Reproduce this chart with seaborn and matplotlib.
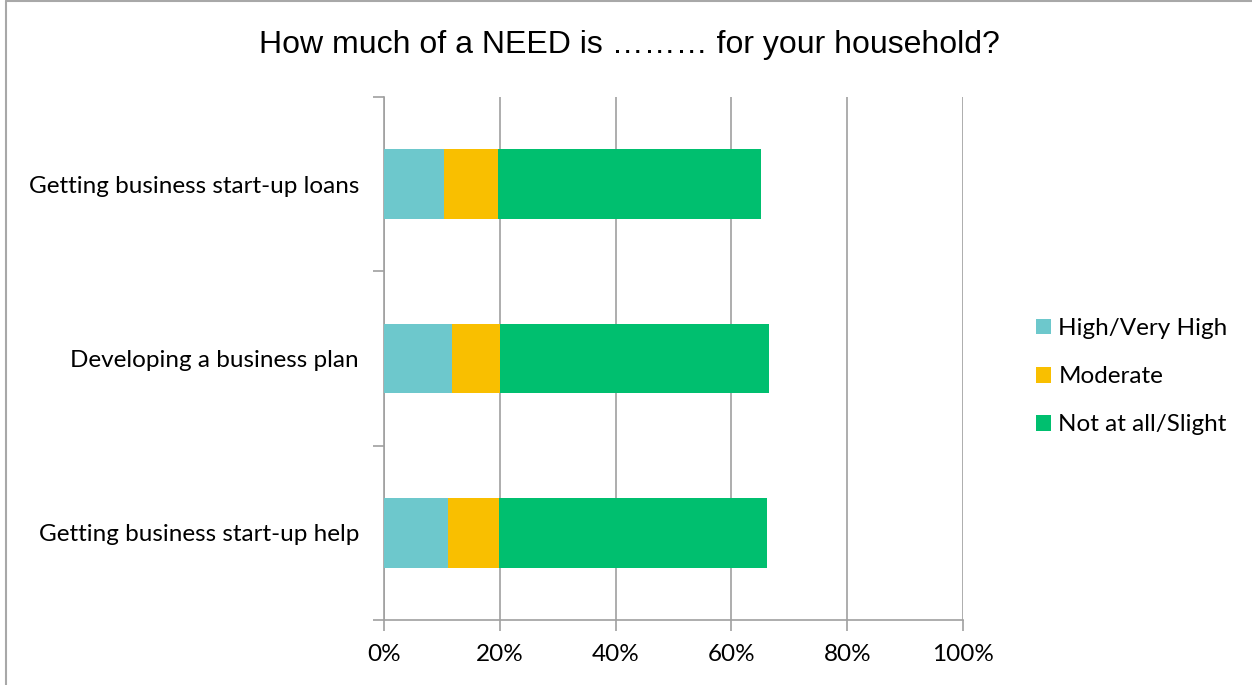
import matplotlib
matplotlib.use("Agg")
import matplotlib.pyplot as plt
import seaborn as sns
import pandas as pd
import numpy as np
from matplotlib.ticker import FixedLocator, PercentFormatter
from matplotlib.patches import Patch
from matplotlib.lines import Line2D

categories = ["Getting business start-up loans",
              "Developing a business plan",
              "Getting business start-up help"]
series_names = ["High/Very High", "Moderate", "Not at all/Slight"]
high = [10.4, 11.8, 11.1]
moderate = [9.3, 8.2, 8.7]
not_at_all = [45.4, 46.5, 46.3]
colors = ["#6DC8CC", "#F9BF00", "#00BF6F"]
x_ticks = [0, 20, 40, 60, 80, 100]

sns.set_theme(style="white")
plt.rcParams["font.family"] = ["Lato", "DejaVu Sans"]
plt.rcParams["text.color"] = "black"

fig = plt.figure(figsize=(12.52, 6.85), dpi=100)
ax = fig.add_axes([0.3067, 0.0949, 0.4625, 0.7635])

df = pd.DataFrame({"category": categories, "high": high,
                   "moderate": moderate, "not_at_all": not_at_all})
df["c1"] = df["high"]
df["c2"] = df["c1"] + df["moderate"]
df["c3"] = df["c2"] + df["not_at_all"]

# stacked bars: draw cumulative totals back to front
for col, color in zip(["c3", "c2", "c1"], colors[::-1]):
    sns.barplot(data=df, y="category", x=col, order=categories, orient="h",
                color=color, saturation=1, width=0.4, ax=ax, zorder=3,
                linewidth=0)

ax.set_xlim(0, 100)
ax.set_ylim(2.5, -0.5)
ax.set_xlabel("")
ax.set_ylabel("")
ax.xaxis.set_major_locator(FixedLocator(x_ticks))
ax.xaxis.set_major_formatter(PercentFormatter(decimals=0))
ax.grid(axis="x", color="#A0A0A0", linewidth=1.2, zorder=0)
ax.grid(axis="y", visible=False)

for s in ["top", "right"]:
    ax.spines[s].set_visible(False)
for s in ["left", "bottom"]:
    ax.spines[s].set_color("#A0A0A0")
    ax.spines[s].set_linewidth(1.2)

ax.tick_params(axis="x", which="major", direction="out", length=8, width=1.2,
               color="#A0A0A0", labelsize=17.5, pad=9, bottom=True,
               labelcolor="black")
ax.tick_params(axis="y", which="major", length=0, labelsize=17.5, pad=18,
               labelcolor="black")
ax.yaxis.set_minor_locator(FixedLocator([-0.5, 0.5, 1.5, 2.5]))
ax.tick_params(axis="y", which="minor", direction="out", length=8, width=1.2,
               color="#A0A0A0", left=True)

handles = [Patch(facecolor=c, edgecolor="none", label=n)
           for c, n in zip(colors, series_names)]
leg = fig.legend(handles=handles, loc="center left",
                 bbox_to_anchor=(0.810, 0.450), frameon=False,
                 fontsize=17.5, handlelength=0.62, handleheight=0.62,
                 handletextpad=0.3, labelspacing=1.12)

fig.text(0.503, 0.934, "How much of a NEED is ……… for your household?",
         ha="center", va="center", fontsize=23, color="black",
         family=["Liberation Sans", "DejaVu Sans"])

# outer chart frame
fig.add_artist(Line2D([0.005, 0.005], [0, 0.999], transform=fig.transFigure,
                      color="#A8A8A8", linewidth=1.5))
fig.add_artist(Line2D([0.005, 1], [0.999, 0.999], transform=fig.transFigure,
                      color="#A8A8A8", linewidth=1.5))

fig.savefig("out.png", dpi=100)
